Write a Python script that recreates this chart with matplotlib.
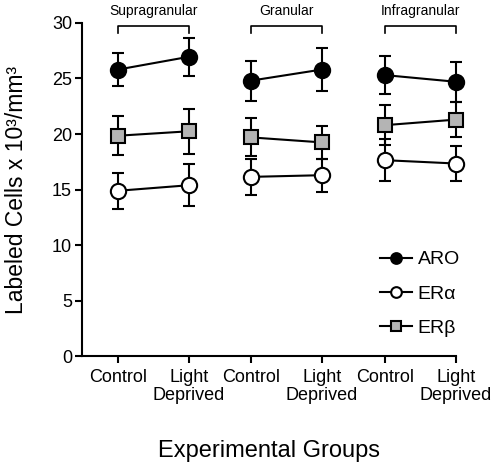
import numpy as np
import matplotlib.pyplot as plt

plt.rcParams['font.family'] = ['Liberation Sans', 'DejaVu Sans']

# data
layers = ['Supragranular', 'Granular', 'Infragranular']
tick_labels = ['Control', 'Light\nDeprived'] * 3
x_pos = [1.0, 2.0, 2.87, 3.87, 4.76, 5.76]

aro = [25.8, 26.95, 24.8, 25.8, 25.3, 24.7]
aro_err = [1.5, 1.7, 1.8, 1.9, 1.7, 1.8]
era = [14.9, 15.4, 16.15, 16.3, 17.65, 17.35]
era_err = [1.6, 1.9, 1.6, 1.5, 1.9, 1.6]
erb = [19.85, 20.25, 19.7, 19.25, 20.8, 21.3]
erb_err = [1.75, 2.0, 1.7, 1.5, 1.8, 1.6]

fig = plt.figure(figsize=(4.93, 4.66), dpi=100)
ax = fig.add_axes([0.166, 0.235, 0.759, 0.716])

series = [
    (aro, aro_err, 'o', 'black', 'ARO', 11),
    (era, era_err, 'o', 'white', 'ERα', 11),
    (erb, erb_err, 's', '#b4b4b4', 'ERβ', 10),
]
handles = []
for vals, errs, mk, fc, lab, ms in series:
    for g in range(3):
        xs = x_pos[2 * g:2 * g + 2]
        ys = vals[2 * g:2 * g + 2]
        es = errs[2 * g:2 * g + 2]
        _, caps, bars = ax.errorbar(xs, ys, yerr=es, fmt='none', ecolor='black',
                                    elinewidth=1.5, capsize=4.5, capthick=1.5, zorder=2)
        for c in caps:
            c.set_clip_on(False)
        for b in bars:
            b.set_clip_on(False)
        h, = ax.plot(xs, ys, color='black', lw=1.5, marker=mk, ms=ms,
                     mfc=fc, mec='black', mew=1.5, zorder=3, clip_on=False)
    handles.append((h, lab))

# brackets with layer names
for g, name in enumerate(layers):
    x0, x1 = x_pos[2 * g], x_pos[2 * g + 1]
    ax.plot([x0, x0, x1, x1], [29.1, 29.75, 29.75, 29.1], color='black',
            lw=1.2, clip_on=False)
    ax.text((x0 + x1) / 2, 31.1, name, ha='center', va='center',
            fontsize=10)

ax.set_xlim(0.49, 5.76)
ax.set_ylim(0, 30)
ax.set_yticks(range(0, 31, 5))
ax.set_xticks(x_pos)
ax.set_xticklabels(tick_labels, fontsize=13, linespacing=1.05)
ax.tick_params(axis='y', labelsize=13, width=1.5, length=5, pad=2)
ax.tick_params(axis='x', width=1.5, length=5, pad=4)
for s in ['top', 'right']:
    ax.spines[s].set_visible(False)
for s in ['left', 'bottom']:
    ax.spines[s].set_linewidth(1.5)

ax.set_ylabel('Labeled Cells x 10³/mm³', fontsize=16.5)
ax.yaxis.set_label_coords(-0.145, 0.5)
ax.set_xlabel('Experimental Groups', fontsize=17)
ax.xaxis.set_label_coords(0.5, -0.25)

ax.legend([h for h, _ in handles], [l for _, l in handles],
          loc='lower left', bbox_to_anchor=(0.77, 0.03), frameon=False,
          fontsize=14, handlelength=1.65, handletextpad=0.3, borderpad=0,
          labelspacing=0.85, markerscale=0.7)

plt.savefig('out.png', dpi=100)
plt.close()
